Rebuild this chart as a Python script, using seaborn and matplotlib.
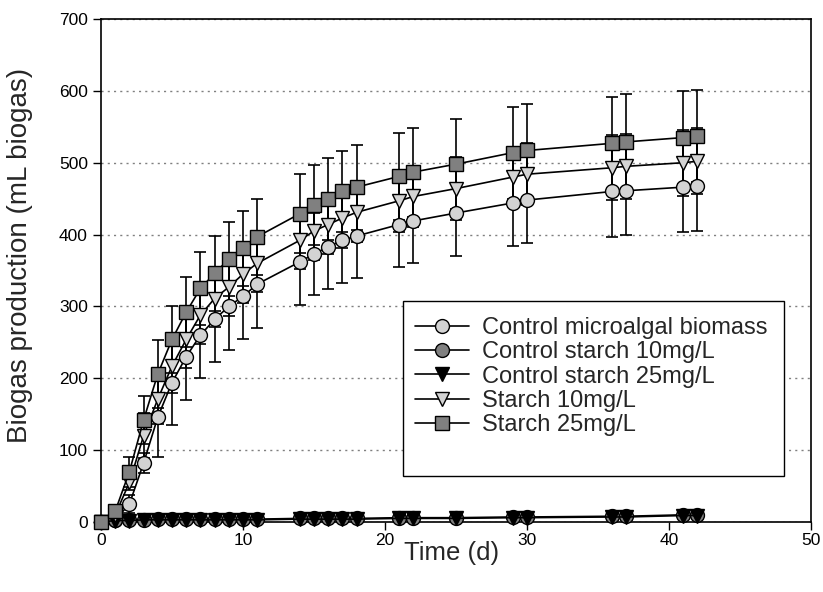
import matplotlib
matplotlib.use("Agg")
import matplotlib.pyplot as plt
from matplotlib.patches import Rectangle
import seaborn as sns
import numpy as np
import pandas as pd

# ---- data ----
time_d = [0, 1, 2, 3, 4, 5, 6, 7, 8, 9, 10, 11, 14, 15, 16, 17, 18, 21, 22, 25, 29, 30, 36, 37, 41, 42]

control_biomass = [0, 3, 25, 82, 146, 194, 230, 260, 282, 300, 314, 331, 362, 373, 383, 392, 398,
                   414, 419, 430, 444, 448, 460, 461, 466, 467]
control_biomass_err = [0, 1, 12, 14, 55, 59, 60, 59, 59, 60, 60, 61, 60, 57, 59, 60, 59,
                       59, 59, 60, 60, 60, 64, 62, 62, 62]

control_starch10 = [0, 3, 3, 3, 4, 4, 4, 4, 4, 4, 4, 4, 5, 5, 5, 5, 5, 6, 6, 6, 7, 7, 8, 8, 10, 10]
control_starch10_err = [0] * 26

control_starch25 = [0, 2, 2, 3, 3, 3, 3, 3, 3, 3, 3, 3, 4, 4, 4, 4, 4, 5, 5, 5, 6, 6, 7, 7, 9, 9]
control_starch25_err = [0] * 26

starch10 = [0, 10, 55, 120, 171, 217, 254, 288, 311, 327, 345, 360, 392, 405, 414, 423, 431,
            447, 453, 464, 480, 484, 493, 495, 500, 502]
starch10_err = [0, 2, 10, 31, 35, 38, 40, 40, 40, 40, 40, 40, 40, 41, 41, 42, 42,
                43, 43, 44, 42, 43, 45, 45, 46, 46]

starch25 = [0, 15, 70, 142, 206, 254, 292, 325, 346, 366, 381, 397, 429, 441, 450, 460, 466,
            481, 487, 498, 514, 517, 527, 529, 535, 537]
starch25_err = [0, 2, 21, 34, 47, 47, 49, 51, 52, 51, 52, 53, 55, 56, 57, 56, 59,
                61, 62, 63, 64, 65, 65, 66, 65, 64]

labels = ["Control microalgal biomass", "Control starch 10mg/L", "Control starch 25mg/L",
          "Starch 10mg/L", "Starch 25mg/L"]
x_ticks = [0, 10, 20, 30, 40, 50]
y_ticks = [0, 100, 200, 300, 400, 500, 600, 700]

series = [
    (control_biomass, control_biomass_err, "o", "#d3d3d3"),
    (control_starch10, control_starch10_err, "o", "#808080"),
    (control_starch25, control_starch25_err, "v", "#000000"),
    (starch10, starch10_err, "v", "#d3d3d3"),
    (starch25, starch25_err, "s", "#808080"),
]

# ---- style ----
sns.set_style("ticks")
plt.rcParams["font.family"] = ["Liberation Sans", "DejaVu Sans"]

W, H = 823, 592
fig = plt.figure(figsize=(W / 100, H / 100), dpi=100)
ax = fig.add_axes([101 / W, 1 - 522 / H, 710 / W, 503 / H])

# error bars first (beneath markers)
for (vals, errs, m, fc) in series:
    ax.errorbar(time_d, vals, yerr=errs, fmt="none", ecolor="black", elinewidth=1.2,
                capsize=4, capthick=1.2, zorder=2)

# lines + markers via seaborn
for (vals, errs, m, fc), lab in zip(series, labels):
    df = pd.DataFrame({"Time (d)": time_d, "val": vals})
    sns.lineplot(data=df, x="Time (d)", y="val", ax=ax, color="black", linewidth=1.2,
                 marker=m, markersize=10 if m != "s" else 9.5, markerfacecolor=fc,
                 markeredgecolor="black", markeredgewidth=1.0, label=lab, zorder=3,
                 errorbar=None)

ax.set_xlim(0, 50)
ax.set_ylim(0, 700)
ax.set_xticks(x_ticks)
ax.set_yticks(y_ticks)
ax.tick_params(axis="both", direction="out", length=6, width=1, labelsize=12.5,
               colors="black")
ax.tick_params(axis="x", pad=2)
for sp in ax.spines.values():
    sp.set_visible(True)
    sp.set_color("black")
    sp.set_linewidth(1.2)
for lp in ax.get_lines():
    lp.set_clip_on(False)

ax.yaxis.grid(True, color="#808080", linestyle=(0, (1.5, 3)), linewidth=1.0)
ax.xaxis.grid(False)
ax.set_axisbelow(True)

ax.set_xlabel("Time (d)", fontsize=18.5)
ax.xaxis.set_label_coords(0.494, (522 - 541) / 503)
ax.set_ylabel("Biogas production (mL biogas)", fontsize=20)
ax.yaxis.set_label_coords((33 - 101) / 710, (522 - 255) / 503)

# legend box (white, black border) spanning the reference's frame
box = Rectangle(((403 - 101) / 710, (522 - 476) / 503), (784 - 403) / 710, (476 - 301) / 503,
                transform=ax.transAxes, facecolor="white", edgecolor="black",
                linewidth=1.0, zorder=4)
ax.add_patch(box)

leg = ax.legend(loc="upper left", bbox_to_anchor=((415 - 101) / 710, (522 - 317) / 503),
                fontsize=17, frameon=False, handlelength=2.3,
                handletextpad=0.55, borderpad=0, labelspacing=0.1, borderaxespad=0)
leg.set_zorder(5)

fig.savefig("out.png", dpi=100)
